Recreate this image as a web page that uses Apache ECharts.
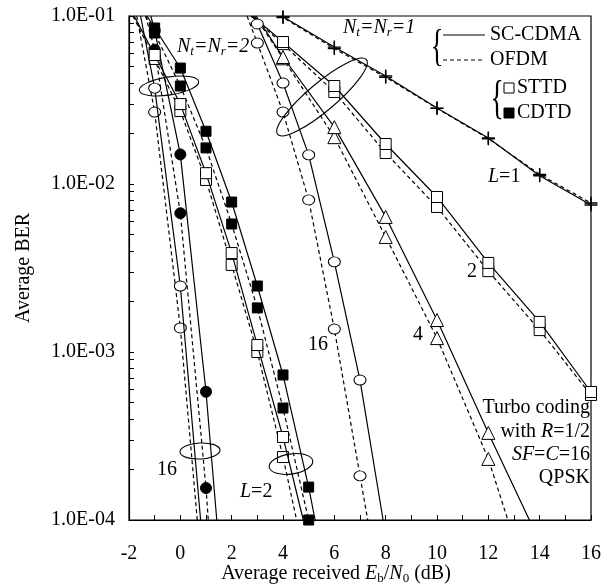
<!DOCTYPE html>
<html>
<head>
<meta charset="utf-8">
<script src="https://cdn.jsdelivr.net/npm/echarts@6/dist/echarts.min.js"></script>
<style>
  html, body { margin: 0; padding: 0; background: #fff; }
  #main { width: 611px; height: 584px; }
</style>
</head>
<body>
<div id="main"></div>
<script>
// ---- data ----
// Nt = Nr = 1 group (SC-CDMA = solid, OFDM = dashed)
const xN1L1 = [4, 6, 8, 10, 12, 14, 16];
const berN1L1Sc = [0.099, 0.0653, 0.044, 0.0283, 0.0188, 0.0112, 0.0075];
const berN1L1Ofdm = [0.098, 0.064, 0.0432, 0.0282, 0.0186, 0.0114, 0.0077];

const xN1L2 = [4, 6, 8, 10, 12, 14, 16];
const berN1L2Sc = [0.070, 0.0383, 0.0173, 0.00837, 0.00339, 0.00151, 0.000578];
const berN1L2Ofdm = [0.068, 0.0353, 0.0153, 0.0073, 0.00303, 0.00135, 0.000555];

const xN1L4 = [4, 6, 8, 10, 12];
const berN1L4Sc = [0.057, 0.0218, 0.00637, 0.00155, 0.00033];
const berN1L4Ofdm = [0.056, 0.0190, 0.00484, 0.00121, 0.000231];

const xN1L16 = [3, 4, 5, 6, 7];
const berN1L16Sc = [0.0896, 0.0399, 0.0149, 0.00344, 0.000681];
const berN1L16Ofdm = [0.069, 0.0268, 0.00804, 0.00137, 0.000183];

// Nt = Nr = 2 group
const xSttdL2 = [-1, 0, 1, 2, 3, 4];
const berSttdL2Sc = [0.0586, 0.0299, 0.0116, 0.00388, 0.0011, 0.000312];
const berSttdL2Ofdm = [0.0555, 0.0272, 0.01057, 0.0033, 0.001, 0.000237];

const xCdtdL2 = [-1, 0, 1, 2, 3, 4, 5];
const berCdtdL2Sc = [0.0848, 0.049, 0.0206, 0.00781, 0.00247, 0.00073, 0.000157];
const berCdtdL2Ofdm = [0.0792, 0.0383, 0.0164, 0.00578, 0.00183, 0.000464, 0.0001];

const xSttdL16 = [-1, 0];
const berSttdL16Sc = [0.0372, 0.00247];
const berSttdL16Ofdm = [0.0268, 0.00139];

const xCdtdL16 = [-1, 0, 1];
const berCdtdL16Sc = [0.082, 0.0150, 0.00058];
const berCdtdL16Ofdm = [0.063, 0.0067, 0.000155];

// where each curve leaves the frame: [x at top (1e-1), x at bottom (1e-4)]
const edgeN1L1Sc = [3.9, null], edgeN1L1Ofdm = [3.85, null];
const edgeN1L2Sc = [2.8, null], edgeN1L2Ofdm = [2.75, null];
const edgeN1L4Sc = [2.95, 13.6], edgeN1L4Ofdm = [2.9, 12.76];
const edgeN1L16Sc = [2.85, 7.9], edgeN1L16Ofdm = [2.6, 7.3];
const edgeSttdL2Sc = [-1.8, 4.79], edgeSttdL2Ofdm = [-1.85, 4.53];
const edgeCdtdL2Sc = [-1.3, 5.25], edgeCdtdL2Ofdm = [-1.35, null];
const edgeSttdL16Sc = [-1.55, 0.79], edgeSttdL16Ofdm = [-1.7, 0.66];
const edgeCdtdL16Sc = [-1.15, 1.42], edgeCdtdL16Ofdm = [-1.35, 1.09];

const yLabelValues = [1e-4, 1e-3, 1e-2, 1e-1];

const Y_MIN = 1e-4, Y_MAX = 1e-1;
const FONT = 'Liberation Serif';

const yTickValues = [];
for (let d = -4; d < -1; d++) {
  for (let m = 1; m < 10; m++) yTickValues.push(m * Math.pow(10, d));
}
yTickValues.push(Y_MAX);
const xTickValues = [];
for (let v = -2; v <= 16; v++) xTickValues.push(v);

const PLUS = { symbol: 'path://M0 5H10M5 0V10', size: 13, fill: 'transparent', bw: 1.4 };
const OSQ = { symbol: 'rect', size: 11, fill: '#fff' };
const FSQ = { symbol: 'rect', size: 10, fill: '#000' };
const TRI = { symbol: 'triangle', size: 13, fill: '#fff' };
const OCI = { symbol: 'circle', size: [12, 10], fill: '#fff' };
const FCI = { symbol: 'circle', size: 11, fill: '#000' };

function curve(xs, ys, edge, dashed, mark) {
  const data = xs.map((x, i) => [x, ys[i]]);
  if (edge[0] != null) data.unshift({ value: [edge[0], Y_MAX], symbol: 'none' });
  if (edge[1] != null) data.push({ value: [edge[1], Y_MIN], symbol: 'none' });
  return {
    type: 'line',
    data: data,
    symbol: mark.symbol,
    symbolSize: mark.size,
    showSymbol: true,
    showAllSymbol: true,
    clip: true,
    silent: true,
    z: dashed ? 2 : 3,
    lineStyle: { color: '#000', width: 1.2, type: dashed ? [4, 3] : 'solid' },
    itemStyle: { color: mark.fill, borderColor: '#000', borderWidth: mark.bw || 1 },
  };
}

const series = [
  curve(xN1L1, berN1L1Ofdm, edgeN1L1Ofdm, true, PLUS),
  curve(xN1L1, berN1L1Sc, edgeN1L1Sc, false, PLUS),
  curve(xN1L2, berN1L2Ofdm, edgeN1L2Ofdm, true, OSQ),
  curve(xN1L2, berN1L2Sc, edgeN1L2Sc, false, OSQ),
  curve(xN1L4, berN1L4Ofdm, edgeN1L4Ofdm, true, TRI),
  curve(xN1L4, berN1L4Sc, edgeN1L4Sc, false, TRI),
  curve(xN1L16, berN1L16Ofdm, edgeN1L16Ofdm, true, OCI),
  curve(xN1L16, berN1L16Sc, edgeN1L16Sc, false, OCI),
  curve(xSttdL2, berSttdL2Ofdm, edgeSttdL2Ofdm, true, OSQ),
  curve(xSttdL2, berSttdL2Sc, edgeSttdL2Sc, false, OSQ),
  curve(xCdtdL2, berCdtdL2Ofdm, edgeCdtdL2Ofdm, true, FSQ),
  curve(xCdtdL2, berCdtdL2Sc, edgeCdtdL2Sc, false, FSQ),
  curve(xSttdL16, berSttdL16Ofdm, edgeSttdL16Ofdm, true, OCI),
  curve(xSttdL16, berSttdL16Sc, edgeSttdL16Sc, false, OCI),
  curve(xCdtdL16, berCdtdL16Ofdm, edgeCdtdL16Ofdm, true, FCI),
  curve(xCdtdL16, berCdtdL16Sc, edgeCdtdL16Sc, false, FCI),
];

const rich = {
  i: { fontFamily: FONT, fontSize: 20, fontStyle: 'italic', color: '#000' },
  n: { fontFamily: FONT, fontSize: 20, color: '#000' },
  si: { fontFamily: FONT, fontSize: 13, fontStyle: 'italic', color: '#000', padding: [10, 0, 0, 0] },
  s: { fontFamily: FONT, fontSize: 13, color: '#000', padding: [10, 0, 0, 0] },
};

function label(x, y, text, align) {
  return {
    type: 'text', x: x, y: y, z: 50, silent: true,
    style: { text: text, rich: rich, font: '20px ' + FONT, fill: '#000', align: align || 'left', verticalAlign: 'middle' },
  };
}
function ell(cx, cy, rx, ry, rot) {
  return {
    type: 'ellipse', x: cx, y: cy, rotation: rot || 0, z: 40, silent: true,
    shape: { cx: 0, cy: 0, rx: rx, ry: ry },
    style: { fill: 'none', stroke: '#000', lineWidth: 1.1 },
  };
}

const graphic = [
  // legend
  { type: 'line', z: 50, shape: { x1: 443, y1: 35, x2: 485, y2: 35 }, style: { stroke: '#000', lineWidth: 1.2 } },
  { type: 'line', z: 50, shape: { x1: 443, y1: 60, x2: 485, y2: 60 }, style: { stroke: '#000', lineWidth: 1.2, lineDash: [4, 3] } },
  label(490, 35, '{n|SC-CDMA}'),
  label(490, 60, '{n|OFDM}'),
  { type: 'text', x: 437, y: 48, scaleX: 0.6, z: 50, style: { text: '{', font: '44px ' + FONT, fill: '#000', align: 'center', verticalAlign: 'middle' } },
  { type: 'rect', z: 50, shape: { x: 504, y: 83, width: 10, height: 10 }, style: { fill: '#fff', stroke: '#000', lineWidth: 1 } },
  { type: 'rect', z: 50, shape: { x: 504, y: 108, width: 10, height: 10 }, style: { fill: '#000', stroke: '#000', lineWidth: 1 } },
  label(517, 88, '{n|STTD}'),
  label(517, 113, '{n|CDTD}'),
  { type: 'text', x: 497, y: 101, scaleX: 0.6, z: 50, style: { text: '{', font: '46px ' + FONT, fill: '#000', align: 'center', verticalAlign: 'middle' } },
  // annotations
  label(343, 28, '{i|N}{si|t}{i|=N}{si|r}{i|=1}'),
  label(177, 47, '{i|N}{si|t}{i|=N}{si|r}{i|=2}'),
  label(488, 177, '{i|L}{n|=1}'),
  label(472, 272, '{n|2}', 'center'),
  label(418, 335, '{n|4}', 'center'),
  label(318, 345, '{n|16}', 'center'),
  label(167, 470, '{n|16}', 'center'),
  label(240, 492, '{i|L}{n|=2}'),
  label(590, 408, '{n|Turbo coding}', 'right'),
  label(590, 432, '{n|with }{i|R}{n|=1/2}', 'right'),
  label(590, 455, '{i|SF}{n|=}{i|C}{n|=16}', 'right'),
  label(590, 478, '{n|QPSK}', 'right'),
  ell(169, 86, 30, 9, 0.15),
  ell(322, 97, 58, 14, 0.7),
  ell(200, 451, 20, 8, 0.05),
  ell(291, 464, 22, 10, 0.15),
];

const chart = echarts.init(document.getElementById('main'));
chart.setOption({
  animation: false,
  backgroundColor: '#fff',
  grid: {
    left: 129, right: 20, top: 16, bottom: 64,
    outerBoundsMode: 'none',
    show: true, borderColor: '#000', borderWidth: 1.2, backgroundColor: 'transparent',
  },
  xAxis: {
    type: 'value',
    min: -2,
    max: 16,
    interval: 2,
    name: '{n|Average received }{i|E}{s|b}{n|/}{i|N}{s|0}{n| (dB)}',
    nameLocation: 'middle',
    nameGap: 42,
    nameMoveOverlap: false,
    nameTextStyle: { rich: rich, padding: [0, 48, 0, 0] },
    axisLine: { onZero: false, lineStyle: { color: '#000', width: 1.2 } },
    axisTick: { inside: true, length: 5, lineStyle: { color: '#000' }, customValues: xTickValues },
    axisLabel: { color: '#000', fontFamily: FONT, fontSize: 20, margin: 24 },
    splitLine: { show: false },
  },
  yAxis: {
    type: 'log',
    logBase: 10,
    min: Y_MIN,
    max: Y_MAX,
    name: 'Average BER',
    nameLocation: 'middle',
    nameGap: 95,
    nameRotate: 90,
    nameMoveOverlap: false,
    nameTextStyle: { color: '#000', fontFamily: FONT, fontSize: 20 },
    axisLine: { onZero: false, lineStyle: { color: '#000', width: 1.2 } },
    axisTick: { inside: true, length: 5, lineStyle: { color: '#000' }, customValues: yTickValues },
    axisLabel: {
      color: '#000', fontFamily: FONT, fontSize: 20, margin: 14,
      customValues: yLabelValues,
      formatter: function (v) {
        const e = Math.round(-Math.log10(v));
        return '1.0E-' + (e < 10 ? '0' : '') + e;
      },
    },
    splitLine: { show: false },
  },
  series: series,
  graphic: graphic,
});
</script>
</body>
</html>
